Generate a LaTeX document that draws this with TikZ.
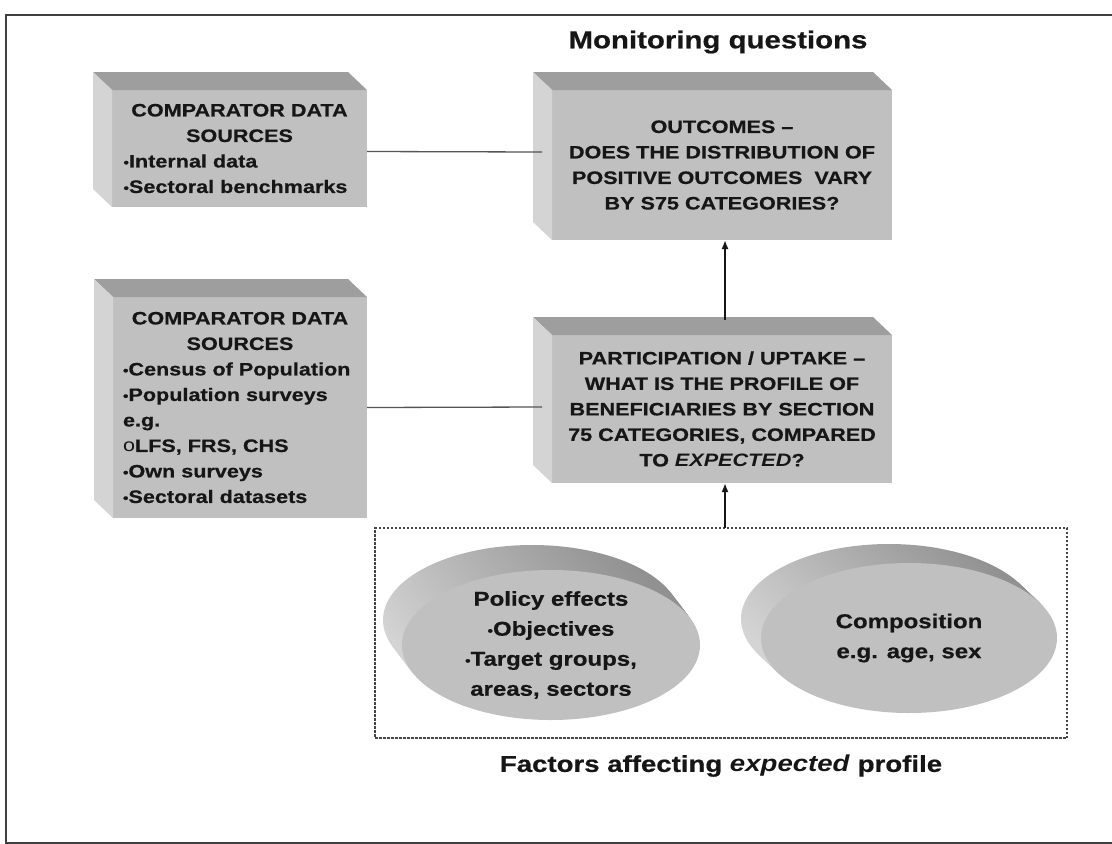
\documentclass[tikz,border=0pt]{standalone}
\usepackage{fontspec}
\setmainfont{Liberation Sans}[FakeStretch=1.2, BoldFeatures={FakeBold=0.6}]
\usepackage{tikz}
\usetikzlibrary{calc,shapes.geometric,arrows.meta}

\definecolor{frontgray}{RGB}{192,192,192}
\definecolor{topgray}{RGB}{158,158,158}
\definecolor{sidegray}{RGB}{212,212,212}
\definecolor{inkgray}{RGB}{22,22,22}
\definecolor{linegray}{RGB}{85,85,85}

\newcommand{\bul}{\raisebox{0.5pt}{\fontsize{13}{13}\selectfont\textbullet}}
\newcommand{\boxhead}[1]{\makebox[\hsize]{#1}}
% top and left faces of a slab, drawn round its front node
\newcommand{\slabsides}[1]{%
  \fill[topgray] (#1.north west) -- (#1.north east) -- ++(-19,-18) -- ($(#1.north west)+(-19,-18)$) -- cycle;
  \fill[sidegray] (#1.north west) -- (#1.south west) -- ++(-19,-18) -- ($(#1.north west)+(-19,-18)$) -- cycle;
}

\tikzset{
  slab/.style={rectangle, fill=frontgray, inner sep=0pt, outer sep=0pt, text=inkgray,
    font=\bfseries\fontsize{18}{25.5}\selectfont},
  disc/.style={ellipse, fill=frontgray, minimum width=298pt, minimum height=150pt, inner sep=0pt},
  discside/.style={top color=topgray!92!black, bottom color=sidegray, shading angle=-45},
  disctext/.style={text=inkgray, align=center, font=\bfseries\fontsize{20}{30}\selectfont},
  link/.style={draw=linegray, line width=1.3pt},
  flow/.style={draw=inkgray, line width=2pt, -{Latex[length=9pt,width=7pt]}},
  outline/.style={draw=linegray!80!black, line width=1.1pt, dash pattern=on 2.5pt off 1.5pt},
  frame/.style={draw=black!75, line width=2pt}
}

\begin{document}
\begin{tikzpicture}[x=1pt,y=-1pt]
  \useasboundingbox (0,0) rectangle (1112,844);
  \draw[frame] (1112,15) -| (6,843) -- (1112,843);

  \node[text=inkgray, font=\bfseries\fontsize{24.5}{28}\selectfont] (monitor) at (718,42) {Monitoring questions};

  % slabs
  \node[slab, minimum width=255pt, minimum height=117pt, text width=232pt, align=left] (compA) at (239.5,148.5)
    {\boxhead{COMPARATOR DATA}\\\boxhead{SOURCES}\\\bul Internal data\\\bul Sectoral benchmarks};
  \slabsides{compA}

  \node[slab, minimum width=340pt, minimum height=150pt, align=center] (outcomes) at (722,165)
    {OUTCOMES --\\DOES THE DISTRIBUTION OF\\POSITIVE OUTCOMES\ \ VARY\\BY S75 CATEGORIES?};
  \slabsides{outcomes}

  \node[slab, minimum width=254pt, minimum height=221pt, text width=234pt, align=left] (compC) at (240,407.5)
    {\boxhead{COMPARATOR DATA}\\\boxhead{SOURCES}\\\bul Census of Population\\\bul Population surveys\\e.g.\\{\mdseries o}LFS, FRS, CHS\\\bul Own surveys\\\bul Sectoral datasets};
  \slabsides{compC}

  \node[slab, minimum width=340pt, minimum height=148pt, align=center] (partic) at (722,409)
    {PARTICIPATION / UPTAKE --\\WHAT IS THE PROFILE OF\\BENEFICIARIES BY SECTION\\75 CATEGORIES, COMPARED\\TO \textit{EXPECTED}?};
  \slabsides{partic}

  % factors
  \node[outline, minimum width=692pt, minimum height=210pt, inner sep=0pt, outer sep=0pt] (factors) at (721,633) {};
  \node[text=inkgray, font=\bfseries\fontsize{23}{26}\selectfont] (factorlabel) at (721,766)
    {Factors affecting \textit{expected} profile};

  \foreach \k in {10,...,1}
    \shade[discside] (551-1.9*\k,645-2.5*\k) ellipse [x radius=149pt, y radius=75pt];
  \node[disc] (policy) at (551,645) {};
  \node[disctext] (policytext) at (policy) {Policy effects\\\bul Objectives\\\bul Target groups,\\areas, sectors};

  \foreach \k in {10,...,1}
    \shade[discside] (909-2*\k,638-1.9*\k) ellipse [x radius=148pt, y radius=75pt];
  \node[disc, minimum width=296pt] (compo) at (909,638) {};
  \node[disctext] (compotext) at (compo) {Composition\\e.g. age, sex};

  % connectors
  \draw[link] ($(compA.east)+(0,3)$) -- ($(outcomes.west)+(-10,-13)$);
  \draw[link] (compC.east) -- ($(partic.west)+(-10,-2)$);
  \draw[flow] ($(partic.north)+(3,-15)$) -- ($(outcomes.south)+(3,0)$);
  \draw[flow] ($(factors.north)+(4,0)$) -- ($(partic.south)+(3,0)$);
\end{tikzpicture}
\end{document}
